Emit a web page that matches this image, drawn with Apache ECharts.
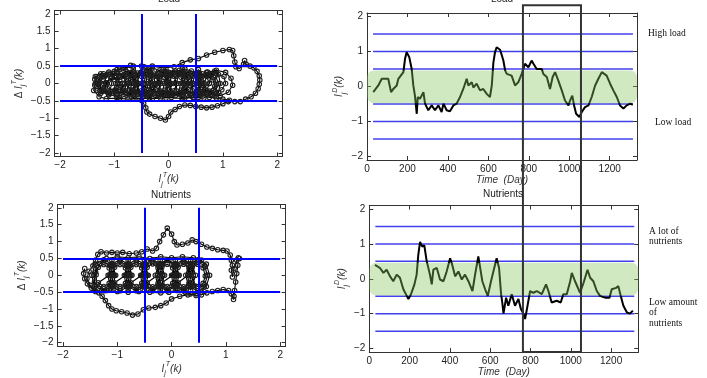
<!DOCTYPE html>
<html><head><meta charset="utf-8">
<script src="https://cdn.jsdelivr.net/npm/echarts@6/dist/echarts.min.js"></script>
<style>html,body{margin:0;padding:0;background:#fff}#c{width:707px;height:378px}</style>
</head><body><div id="c"></div>
<script>
// ---------- data ----------
const loadDays = [31,56,73,105,114,119,130,147,155,180,188,196,209,221,229,237,246,251,262,279,287,303,320,336,353,369,378,394,410,427,443,460,476,493,501,518,526,542,559,575,592,608,617,625,633,641,658,674,683,691,715,732,748,765,781,798,814,823,839,864,872,889,905,918,930,946,963,979,996,1004,1015,1024,1034,1050,1062,1078,1095,1111,1128,1144,1161,1169,1185,1202,1218,1235,1251,1268,1284,1301,1314];
const loadValues = [-0.16,0.03,0.22,0.22,0.20,-0.16,-0.07,0.03,0.22,0.41,0.79,0.98,0.84,0.50,0.03,-0.26,-0.78,-0.30,-0.35,-0.16,-0.49,-0.68,-0.54,-0.68,-0.54,-0.73,-0.49,-0.68,-0.71,-0.54,-0.49,-0.30,-0.07,0.22,0.03,0.12,-0.03,0.08,-0.11,-0.07,-0.21,-0.30,0.03,0.69,0.98,1.12,1.05,0.75,0.46,0.36,0.31,0.03,0.12,0.36,0.65,0.55,0.74,0.65,0.50,0.50,0.36,0.27,-0.07,0.27,0.41,0.17,-0.11,-0.40,-0.54,-0.40,-0.26,-0.54,-0.78,-0.87,-0.73,-0.59,-0.54,-0.30,0.03,0.22,0.41,0.46,0.31,0.08,-0.11,-0.30,-0.54,-0.63,-0.54,-0.49,-0.52];
const nutrDays = [28,53,70,86,103,119,136,152,169,186,194,207,224,235,243,252,263,273,285,301,310,318,335,351,368,384,401,409,426,442,459,475,492,512,525,541,550,561,575,588,604,624,632,644,654,660,666,679,690,707,723,740,752,765,773,781,798,814,831,856,877,889,905,930,950,963,980,997,1005,1021,1046,1063,1083,1096,1112,1129,1145,1170,1192,1203,1225,1236,1248,1261,1278,1294,1308];
const nutrValues = [0.40,0.31,0.17,0.26,0.07,-0.07,0.12,0.03,-0.30,-0.49,-0.58,-0.44,-0.16,0.12,0.68,1.06,0.92,0.96,0.50,0.12,-0.16,0.26,0.31,-0.02,-0.07,0.21,0.59,0.45,0.07,0.21,-0.02,0.12,-0.07,-0.35,0.12,0.64,0.59,-0.07,-0.30,-0.49,-0.07,0.40,0.59,0.31,-0.44,-0.68,-1.00,-0.54,-0.77,-0.44,-0.77,-0.58,-0.86,-1.00,-1.15,-0.91,-0.35,-0.40,-0.35,-0.44,-0.16,-0.35,-0.68,-0.63,-0.68,-0.44,-0.44,-0.07,0.17,-0.07,-0.40,-0.12,0.26,0.03,-0.07,-0.35,-0.49,-0.54,-0.54,-0.30,-0.26,-0.21,-0.49,-0.77,-0.96,-1.00,-0.91];

const loadPhase = [
[-0.10,0.05],[0.05,0.25],[0.20,0.30],[0.35,0.18],[0.38,-0.05],[0.25,-0.25],[0.05,-0.32],[-0.15,-0.25],[-0.25,-0.05],[-0.18,0.18],[0.00,0.32],[0.20,0.38],[0.40,0.30],[0.55,0.28],[0.70,0.22],[0.82,0.10],[0.85,-0.08],[0.75,-0.22],[0.58,-0.28],[0.40,-0.30],[0.20,-0.28],[0.00,-0.30],[-0.20,-0.33],[-0.40,-0.35],[-0.58,-0.30],[-0.72,-0.18],[-0.75,0.00],[-0.68,0.18],[-0.52,0.30],[-0.35,0.32],[-0.22,0.20],[-0.20,0.00],[-0.30,-0.18],[-0.48,-0.25],[-0.65,-0.22],[-0.85,-0.25],[-1.05,-0.28],[-1.22,-0.22],[-1.32,-0.08],[-1.30,0.10],[-1.20,0.22],[-1.02,0.28],[-0.85,0.22],[-0.78,0.05],[-0.84,-0.12],[-0.98,-0.20],[-1.12,-0.15],[-1.15,0.02],[-1.05,0.15],[-0.90,0.18],
[-1.30,0.00],[-1.24,0.23],[-1.10,0.33],[-0.96,0.23],[-0.90,0.00],[-0.96,-0.23],[-1.10,-0.33],[-1.24,-0.23],
[-1.26,0.03],[-1.21,0.19],[-1.10,0.26],[-0.99,0.18],[-0.94,-0.03],[-0.99,-0.19],[-1.10,-0.27],[-1.21,-0.17],
[-1.35,0.00],[-1.32,0.20],[-1.25,0.28],[-1.18,0.20],[-1.15,0.00],[-1.18,-0.20],[-1.25,-0.28],[-1.32,-0.20],
[-1.13,0.00],[-1.08,0.21],[-0.95,0.30],[-0.82,0.21],[-0.77,0.00],[-0.82,-0.21],[-0.95,-0.30],[-1.08,-0.21],
[-1.05,0.00],[-1.02,0.28],[-0.95,0.40],[-0.88,0.28],[-0.85,0.00],[-0.88,-0.28],[-0.95,-0.40],[-1.02,-0.28],
[-0.98,0.00],[-0.92,0.23],[-0.78,0.35],[-0.64,0.23],[-0.58,0.00],[-0.64,-0.23],[-0.78,-0.33],[-0.92,-0.23],
[-0.94,0.03],[-0.89,0.19],[-0.78,0.26],[-0.67,0.18],[-0.62,-0.03],[-0.67,-0.19],[-0.78,-0.27],[-0.89,-0.17],
[-0.81,0.00],[-0.76,0.21],[-0.63,0.30],[-0.50,0.21],[-0.45,0.00],[-0.50,-0.21],[-0.63,-0.30],[-0.76,-0.21],
[-0.75,0.00],[-0.72,0.30],[-0.65,0.42],[-0.58,0.30],[-0.55,0.00],[-0.58,-0.30],[-0.65,-0.42],[-0.72,-0.30],
[-0.68,0.00],[-0.62,0.25],[-0.48,0.36],[-0.34,0.25],[-0.28,0.00],[-0.34,-0.25],[-0.48,-0.36],[-0.62,-0.25],
[-0.64,0.03],[-0.59,0.19],[-0.48,0.27],[-0.37,0.18],[-0.32,-0.03],[-0.37,-0.19],[-0.48,-0.28],[-0.59,-0.17],
[-0.51,0.00],[-0.46,0.21],[-0.33,0.30],[-0.20,0.21],[-0.15,0.00],[-0.20,-0.21],[-0.33,-0.30],[-0.46,-0.21],
[-0.45,0.00],[-0.42,0.30],[-0.35,0.42],[-0.28,0.30],[-0.25,0.00],[-0.28,-0.30],[-0.35,-0.42],[-0.42,-0.30],
[-0.38,0.00],[-0.32,0.25],[-0.18,0.36],[-0.04,0.25],[0.02,0.00],[-0.04,-0.25],[-0.18,-0.36],[-0.32,-0.25],
[-0.34,0.03],[-0.29,0.19],[-0.18,0.27],[-0.07,0.18],[-0.02,-0.03],[-0.07,-0.19],[-0.18,-0.28],[-0.29,-0.17],
[-0.21,0.00],[-0.16,0.21],[-0.03,0.30],[0.10,0.21],[0.15,0.00],[0.10,-0.21],[-0.03,-0.30],[-0.16,-0.21],
[-0.15,0.00],[-0.12,0.30],[-0.05,0.42],[0.02,0.30],[0.05,0.00],[0.02,-0.30],[-0.05,-0.42],[-0.12,-0.30],
[-0.08,0.00],[-0.02,0.25],[0.12,0.36],[0.26,0.25],[0.32,0.00],[0.26,-0.25],[0.12,-0.36],[-0.02,-0.25],
[-0.04,0.03],[0.01,0.19],[0.12,0.27],[0.23,0.18],[0.28,-0.03],[0.23,-0.19],[0.12,-0.28],[0.01,-0.17],
[0.09,0.00],[0.14,0.21],[0.27,0.30],[0.40,0.21],[0.45,0.00],[0.40,-0.21],[0.27,-0.30],[0.14,-0.21],
[0.15,0.00],[0.18,0.30],[0.25,0.42],[0.32,0.30],[0.35,0.00],[0.32,-0.30],[0.25,-0.42],[0.18,-0.30],
[0.22,0.00],[0.28,0.25],[0.42,0.36],[0.56,0.25],[0.62,0.00],[0.56,-0.25],[0.42,-0.36],[0.28,-0.25],
[0.26,0.03],[0.31,0.19],[0.42,0.27],[0.53,0.18],[0.58,-0.03],[0.53,-0.19],[0.42,-0.28],[0.31,-0.17],
[0.39,0.00],[0.44,0.21],[0.57,0.30],[0.70,0.21],[0.75,0.00],[0.70,-0.21],[0.57,-0.30],[0.44,-0.21],
[0.45,0.00],[0.48,0.28],[0.55,0.40],[0.62,0.28],[0.65,0.00],[0.62,-0.28],[0.55,-0.40],[0.48,-0.28],
[0.52,0.00],[0.58,0.23],[0.72,0.33],[0.86,0.23],[0.92,0.00],[0.86,-0.23],[0.72,-0.33],[0.58,-0.23],
[0.56,0.03],[0.61,0.19],[0.72,0.26],[0.83,0.18],[0.88,-0.03],[0.83,-0.19],[0.72,-0.27],[0.61,-0.17],
[0.75,0.00],[0.78,0.26],[0.85,0.36],[0.92,0.26],[0.95,0.00],[0.92,-0.26],[0.85,-0.36],[0.78,-0.26],
[0.30,0.00],[0.51,0.30],[0.30,0.42],[0.09,0.32],[0.00,0.00],[0.09,-0.30],[0.30,-0.42],[0.51,-0.32],[0.60,0.00],
[0.00,0.02],[-0.09,0.32],[-0.30,0.45],[-0.51,0.32],[-0.60,0.00],[-0.51,-0.30],[-0.30,-0.44],[-0.09,-0.32],
[-0.60,0.02],[-0.69,0.30],[-0.90,0.42],[-1.11,0.30],[-1.20,0.00],[-1.11,-0.30],[-0.90,-0.42],[-0.69,-0.30],
[-0.70,0.30],[-0.80,0.45],[-0.65,0.50],[-0.45,0.48],[-0.30,0.50],[-0.10,0.45],[0.10,0.48],[0.25,0.60],[0.40,0.68],[0.55,0.72],[0.70,0.82],[0.85,0.90],[1.00,0.95],[1.12,0.98],[1.18,0.95],[1.20,0.80],[1.22,0.62],[1.24,0.48],[1.30,0.43],[1.38,0.55],[1.40,0.66],[1.43,0.55],[1.50,0.50],[1.57,0.45],[1.63,0.35],[1.67,0.22],[1.68,0.10],[1.67,-0.02],[1.65,-0.15],[1.60,-0.28],[1.52,-0.38],[1.42,-0.45],[1.32,-0.52],[1.22,-0.52],[1.12,-0.48],[1.00,-0.45],[0.88,-0.42],[0.75,-0.40],
[0.62,-0.30],[0.55,-0.10],[0.58,0.15],[0.70,0.32],[0.88,0.38],[1.05,0.32],[1.15,0.15],[1.18,-0.05],[1.10,-0.25],[0.95,-0.35],[0.80,-0.32],[0.68,-0.18],[0.65,0.02],[0.72,0.22],[0.88,0.28],[1.02,0.20],[1.05,0.00],[0.98,-0.18],[0.85,-0.25],
[0.65,-0.42],[0.45,-0.40],[0.25,-0.44],[0.05,-0.40],[-0.15,-0.42],[-0.35,-0.44],[-0.55,-0.42],[-0.75,-0.45],[-0.95,-0.42],[-1.15,-0.44],[-1.28,-0.38],[-1.38,-0.20],[-1.36,-0.05],[-1.36,0.12],[-1.35,0.20],[-1.20,0.28],[-1.00,0.35],[-0.85,0.45],[-0.70,0.52],[-0.50,0.50],[-0.38,0.38],
[-0.45,-0.30],[-0.50,-0.48],[-0.46,-0.58],[-0.42,-0.70],[-0.40,-0.82],[-0.35,-0.88],[-0.25,-0.95],[-0.15,-1.00],[-0.06,-1.05],[0.00,-0.95],[0.04,-0.82],[0.12,-0.75],[0.20,-0.66],[0.30,-0.62],[0.40,-0.63],[0.50,-0.66],[0.60,-0.68],[0.70,-0.70],[0.80,-0.68],[0.90,-0.64],[1.00,-0.58],[1.10,-0.52]
];

const nutrPhase = [
[-1.60,0.20],[-1.62,0.05],[-1.60,-0.10],[-1.55,-0.25],[-1.48,-0.38],[-1.40,-0.48],
[-1.47,0.00],[-1.41,0.33],[-1.25,0.46],[-1.09,0.33],[-1.03,0.00],[-1.09,-0.33],[-1.25,-0.46],[-1.41,-0.33],
[-1.43,0.00],[-1.38,0.28],[-1.25,0.40],[-1.12,0.28],[-1.07,0.00],[-1.12,-0.28],[-1.25,-0.40],[-1.38,-0.28],
[-1.39,0.02],[-1.35,0.24],[-1.25,0.32],[-1.15,0.22],[-1.11,-0.02],[-1.15,-0.24],[-1.25,-0.33],[-1.35,-0.22],
[-1.15,0.00],[-1.14,0.31],[-1.10,0.44],[-1.06,0.31],[-1.05,0.00],[-1.06,-0.31],[-1.10,-0.44],[-1.14,-0.31],
[-1.17,0.00],[-1.11,0.33],[-0.95,0.46],[-0.79,0.33],[-0.73,0.00],[-0.79,-0.33],[-0.95,-0.46],[-1.11,-0.33],
[-1.13,0.00],[-1.08,0.28],[-0.95,0.42],[-0.82,0.28],[-0.77,0.00],[-0.82,-0.28],[-0.95,-0.40],[-1.08,-0.28],
[-1.09,0.02],[-1.05,0.24],[-0.95,0.32],[-0.85,0.22],[-0.81,-0.02],[-0.85,-0.24],[-0.95,-0.33],[-1.05,-0.22],
[-0.85,0.00],[-0.84,0.31],[-0.80,0.44],[-0.76,0.31],[-0.75,0.00],[-0.76,-0.31],[-0.80,-0.44],[-0.84,-0.31],
[-0.87,0.00],[-0.81,0.33],[-0.65,0.46],[-0.49,0.33],[-0.43,0.00],[-0.49,-0.33],[-0.65,-0.46],[-0.81,-0.33],
[-0.83,0.00],[-0.78,0.28],[-0.65,0.40],[-0.52,0.28],[-0.47,0.00],[-0.52,-0.28],[-0.65,-0.42],[-0.78,-0.28],
[-0.79,0.02],[-0.75,0.24],[-0.65,0.32],[-0.55,0.22],[-0.51,-0.02],[-0.55,-0.24],[-0.65,-0.33],[-0.75,-0.22],
[-0.55,0.00],[-0.54,0.31],[-0.50,0.44],[-0.46,0.31],[-0.45,0.00],[-0.46,-0.31],[-0.50,-0.44],[-0.54,-0.31],
[-0.57,0.00],[-0.51,0.33],[-0.35,0.46],[-0.19,0.33],[-0.13,0.00],[-0.19,-0.33],[-0.35,-0.46],[-0.51,-0.33],
[-0.53,0.00],[-0.48,0.30],[-0.35,0.42],[-0.22,0.30],[-0.17,0.00],[-0.22,-0.30],[-0.35,-0.42],[-0.48,-0.30],
[-0.49,0.02],[-0.45,0.24],[-0.35,0.34],[-0.25,0.22],[-0.21,-0.02],[-0.25,-0.24],[-0.35,-0.34],[-0.45,-0.22],
[-0.26,0.00],[-0.25,0.31],[-0.21,0.44],[-0.17,0.31],[-0.16,0.00],[-0.17,-0.31],[-0.21,-0.44],[-0.25,-0.31],
[-0.30,0.00],[-0.24,0.33],[-0.08,0.46],[0.08,0.33],[0.14,0.00],[0.08,-0.33],[-0.08,-0.46],[-0.24,-0.33],
[-0.26,0.00],[-0.21,0.30],[-0.08,0.44],[0.05,0.30],[0.10,0.00],[0.05,-0.30],[-0.08,-0.42],[-0.21,-0.30],
[-0.22,0.02],[-0.18,0.24],[-0.08,0.33],[0.02,0.22],[0.06,-0.02],[0.02,-0.24],[-0.08,-0.33],[-0.18,-0.22],
[0.02,0.00],[0.03,0.31],[0.07,0.44],[0.11,0.31],[0.12,0.00],[0.11,-0.31],[0.07,-0.44],[0.03,-0.31],
[0.00,0.00],[0.06,0.33],[0.22,0.46],[0.38,0.33],[0.44,0.00],[0.38,-0.33],[0.22,-0.46],[0.06,-0.33],
[0.04,0.00],[0.09,0.30],[0.22,0.42],[0.35,0.30],[0.40,0.00],[0.35,-0.30],[0.22,-0.42],[0.09,-0.30],
[0.08,0.02],[0.12,0.24],[0.22,0.33],[0.32,0.22],[0.36,-0.02],[0.32,-0.24],[0.22,-0.34],[0.12,-0.22],
[0.30,0.00],[0.31,0.31],[0.35,0.44],[0.39,0.31],[0.40,0.00],[0.39,-0.31],[0.35,-0.44],[0.31,-0.31],
[0.26,0.00],[0.32,0.33],[0.48,0.46],[0.64,0.33],[0.70,0.00],[0.64,-0.33],[0.48,-0.46],[0.32,-0.33],
[0.30,0.00],[0.35,0.30],[0.48,0.40],[0.61,0.28],[0.66,0.00],[0.61,-0.28],[0.48,-0.40],[0.35,-0.30],
[0.34,0.02],[0.38,0.24],[0.48,0.33],[0.58,0.22],[0.62,-0.02],[0.58,-0.24],[0.48,-0.33],[0.38,-0.22],
[0.60,-0.35],[0.55,-0.50],[0.45,-0.55],[0.30,-0.58],[0.15,-0.62],[0.00,-0.70],[-0.10,-0.82],[-0.20,-0.90],[-0.30,-0.95],[-0.42,-0.97],[-0.52,-1.02],[-0.62,-1.15],[-0.72,-1.18],[-0.82,-1.12],[-0.92,-1.08],[-1.02,-1.05],[-1.10,-1.00],[-1.16,-0.90],[-1.22,-0.75],[-1.28,-0.62],[-1.34,-0.52],[-1.42,-0.45],
[-1.50,-0.30],[-1.56,-0.10],[-1.52,0.12],[-1.45,0.28],[-1.40,0.45],[-1.36,0.62],[-1.30,0.70],[-1.20,0.66],[-1.10,0.68],[-1.00,0.66],[-0.90,0.68],[-0.78,0.64],[-0.65,0.66],[-0.55,0.70],[-0.45,0.78],[-0.35,0.72],[-0.28,0.80],[-0.22,1.00],[-0.15,1.20],[-0.08,1.40],[0.00,1.22],[0.05,1.00],[0.10,0.90],[0.20,0.92],[0.30,0.96],[0.38,1.05],[0.45,1.00],[0.55,0.92],[0.65,0.84],[0.75,0.80],[0.85,0.76],[0.95,0.74],[1.02,0.72],[1.08,0.60],[1.10,0.45],[1.12,0.30],[1.10,0.15],[1.12,-0.05],[1.15,0.20],[1.20,0.45],[1.23,0.52],[1.25,0.50],[1.22,0.30],[1.20,0.05],[1.18,-0.20],[1.16,-0.45],[1.15,-0.62],[1.14,-0.72],[1.10,-0.55],[1.05,-0.45],[0.95,-0.42],[0.85,-0.45],[0.75,-0.48],[0.65,-0.52],[0.55,-0.58],[0.45,-0.60],[0.35,-0.55],[0.25,-0.50],
[0.10,-0.45],[-0.05,-0.50],[-0.20,-0.52],[-0.40,-0.50],[-0.60,-0.48],[-0.80,-0.50],[-1.00,-0.48],[-1.20,-0.45],[-1.35,-0.38],[-1.42,-0.20],[-1.40,0.10],[-1.32,0.35],[-1.20,0.50],[-1.00,0.55],[-0.80,0.52],[-0.60,0.55],[-0.40,0.50],[-0.20,0.55],[0.00,0.52],[0.20,0.55],[0.40,0.52],[0.55,0.45],[0.62,0.25],[0.65,0.00]
];

const phaseThresholds = [-0.5, 0.5];
const phaseLineSpan = [-2, 2];
const levelLines = [-1.5, -1, -0.5, 0.5, 1, 1.5];
const levelSpan = [30, 1315];
const bandRange = [-0.48, 0.46];
const windowDays = [771, 1058];
const phaseRange = [-2.1, 2.1];
const timeRange = [0, 1335];
const timeTickStep = 200;

// ---------- helpers ----------
const FONT = 'Liberation Sans, Arial, Helvetica, sans-serif';
const AX = '#333';
function stepFmt(step) {
  return v => {
    const r = v / step;
    if (Math.abs(r - Math.round(r)) > 1e-6) return '';
    return String(+v.toFixed(2)).replace('-', '\u2212');
  };
}
const rich = {
  n: {fontSize: 10, fontFamily: FONT, color: '#333', lineHeight: 16},
  i: {fontSize: 10, fontFamily: FONT, fontStyle: 'italic', color: '#333', lineHeight: 16},
  sb: {fontSize: 7, fontFamily: FONT, fontStyle: 'italic', color: '#333', lineHeight: 8, verticalAlign: 'bottom'},
  sp: {fontSize: 7, fontFamily: FONT, fontStyle: 'italic', color: '#333', lineHeight: 8, verticalAlign: 'top'}
};
function axis(kind, grid, range, opts) {
  const top = opts.mirror;
  const a = {
    type: 'value', gridIndex: grid, min: range[0], max: range[1],
    position: kind === 'x' ? (top ? 'top' : 'bottom') : (top ? 'right' : 'left'),
    axisLine: {show: true, onZero: false, lineStyle: {color: AX, width: 1}},
    axisTick: {show: true, inside: true, length: 4, lineStyle: {color: AX}},
    splitLine: {show: false},
    axisLabel: top ? {show: false} : {show: true, fontSize: 10, fontFamily: FONT, color: '#222', margin: 4, formatter: stepFmt(opts.step), showMinLabel: true, showMaxLabel: true}
  };
  if (opts.interval) a.interval = opts.interval; else a.splitNumber = opts.split;
  if (!top && opts.name) {
    a.name = opts.name; a.nameLocation = 'middle'; a.nameGap = opts.gap;
    a.nameTextStyle = {rich: rich, fontSize: 10, fontFamily: FONT, color: '#333', fontStyle: opts.italic ? 'italic' : 'normal'};
    if (kind === 'y') a.nameRotate = 90;
  }
  return a;
}
const phXName = '{i|I}{sb|j}{sp|T}{i|(k)}';
const phYName = '{n|\u0394 }{i|I}{sb|j}{sp|T}{i|(k)}';
const tsYName = '{i|I}{sb|j}{sp|D}{i|(k)}';
const tsXName = 'Time  (Day)';

const grids = [
  {left: 54.6, top: 10.5, width: 228, height: 146},
  {left: 57.6, top: 204.5, width: 228, height: 145},
  {left: 367, top: 13, width: 270, height: 147},
  {left: 369.3, top: 205.5, width: 269, height: 148}
];
const xAxes = [], yAxes = [];
[0, 1].forEach(g => {
  xAxes.push(axis('x', g, phaseRange, {step: 1, split: 4, name: phXName, gap: 10}));
  xAxes.push(axis('x', g, phaseRange, {step: 1, split: 4, mirror: true}));
  yAxes.push(axis('y', g, phaseRange, {step: 0.5, split: 8, name: phYName, gap: 26}));
  yAxes.push(axis('y', g, phaseRange, {step: 0.5, split: 8, mirror: true}));
});
[2, 3].forEach(g => {
  xAxes.push(axis('x', g, timeRange, {step: timeTickStep, interval: timeTickStep, name: tsXName, gap: 12, italic: true}));
  xAxes.push(axis('x', g, timeRange, {step: timeTickStep, interval: timeTickStep, mirror: true}));
  yAxes.push(axis('y', g, phaseRange, {step: 1, split: 4, name: tsYName, gap: 16}));
  yAxes.push(axis('y', g, phaseRange, {step: 1, split: 4, mirror: true}));
});
// primary (bottom/left) axis index of each grid
const axOf = g => 2 * g;

function phaseSeries(g, data) {
  const ml = [];
  phaseThresholds.forEach(t => {
    ml.push([{coord: [t, phaseLineSpan[0]]}, {coord: [t, phaseLineSpan[1]]}]);
    ml.push([{coord: [phaseLineSpan[0], t]}, {coord: [phaseLineSpan[1], t]}]);
  });
  return {
    type: 'line', xAxisIndex: axOf(g), yAxisIndex: axOf(g), data: data, z: 2,
    symbol: 'circle', symbolSize: 4.5, showSymbol: true,
    itemStyle: {color: 'rgba(0,0,0,0)', borderColor: '#1e1e1e', borderWidth: 1.1},
    lineStyle: {color: '#000', width: 1.1},
    silent: true, animation: false,
    markLine: {silent: true, symbol: ['none', 'none'], label: {show: false}, animation: false,
      lineStyle: {color: '#0000ff', width: 2, type: 'solid'}, data: ml}
  };
}
function timeSeries(g, days, vals) {
  return {
    type: 'line', xAxisIndex: axOf(g), yAxisIndex: axOf(g), z: 3,
    data: days.map((d, i) => [d, vals[i]]),
    symbol: 'none', lineStyle: {color: '#000', width: 2}, silent: true, animation: false
  };
}
function levelSeries(g) {
  return levelLines.map(v => ({
    type: 'line', xAxisIndex: axOf(g), yAxisIndex: axOf(g), z: 1,
    data: [[levelSpan[0], v], [levelSpan[1], v]],
    symbol: 'none', lineStyle: {color: '#4040ec', width: 1.5}, silent: true, animation: false
  }));
}
function bandSeries(g) {
  return {
    type: 'custom', xAxisIndex: axOf(g), yAxisIndex: axOf(g), z: 4, silent: true, animation: false,
    data: [[timeRange[0], bandRange[1], timeRange[1], bandRange[0]]],
    encode: {x: [0, 2], y: [1, 3]},
    renderItem: (params, api) => {
      const a = api.coord([api.value(0), api.value(1)]);
      const b = api.coord([api.value(2), api.value(3)]);
      return {type: 'rect', shape: {x: a[0], y: a[1], width: b[0] - a[0], height: b[1] - a[1], r: 7},
        style: {fill: 'rgba(132,197,92,0.38)'}};
    }
  };
}

function txt(id, x, y, text, extra) {
  return {type: 'text', id: id, x: x, y: y, silent: true, z: 100,
    style: Object.assign({text: text, fontSize: 10, fontFamily: FONT, fill: '#222', align: 'center', verticalAlign: 'middle'}, extra || {})};
}
const SERIF = {fontFamily: 'Liberation Serif, Times New Roman, serif', fontSize: 9.5, fill: '#111', align: 'left', lineHeight: 10.5, verticalAlign: 'top'};
const graphics = [
  txt('t1', 169, -1, 'Load'),
  txt('t2', 502, -1, 'Load'),
  txt('t3', 171, 195, 'Nutrients'),
  txt('t4', 503, 194, 'Nutrients'),
  txt('a1', 648, 28, 'High load', SERIF),
  txt('a2', 655, 117, 'Low load', SERIF),
  txt('a3', 649, 226, 'A lot of\nnutrients', SERIF),
  txt('a4', 649, 297, 'Low amount\nof\nnutrients', SERIF)
];

const chart = echarts.init(document.getElementById('c'), null, {renderer: 'canvas'});
chart.setOption({
  animation: false,
  backgroundColor: '#fff',
  grid: grids,
  xAxis: xAxes,
  yAxis: yAxes,
  series: [
    phaseSeries(0, loadPhase),
    phaseSeries(1, nutrPhase),
    ...levelSeries(2),
    timeSeries(2, loadDays, loadValues),
    bandSeries(2),
    ...levelSeries(3),
    timeSeries(3, nutrDays, nutrValues),
    bandSeries(3)
  ],
  graphic: graphics
});
// window rectangle spanning both time panels, positioned through the axes
const x1 = chart.convertToPixel({xAxisIndex: axOf(2)}, windowDays[0]);
const x2 = chart.convertToPixel({xAxisIndex: axOf(2)}, windowDays[1]);
const y1 = chart.convertToPixel({yAxisIndex: axOf(2)}, 2.32);
const y2 = chart.convertToPixel({yAxisIndex: axOf(3)}, phaseRange[0]);
chart.setOption({graphic: graphics.concat([{
  type: 'rect', id: 'win', silent: true, z: 90,
  shape: {x: x1, y: y1, width: x2 - x1, height: y2 - y1},
  style: {fill: 'none', stroke: '#333', lineWidth: 2}
}])});
</script></body></html>
